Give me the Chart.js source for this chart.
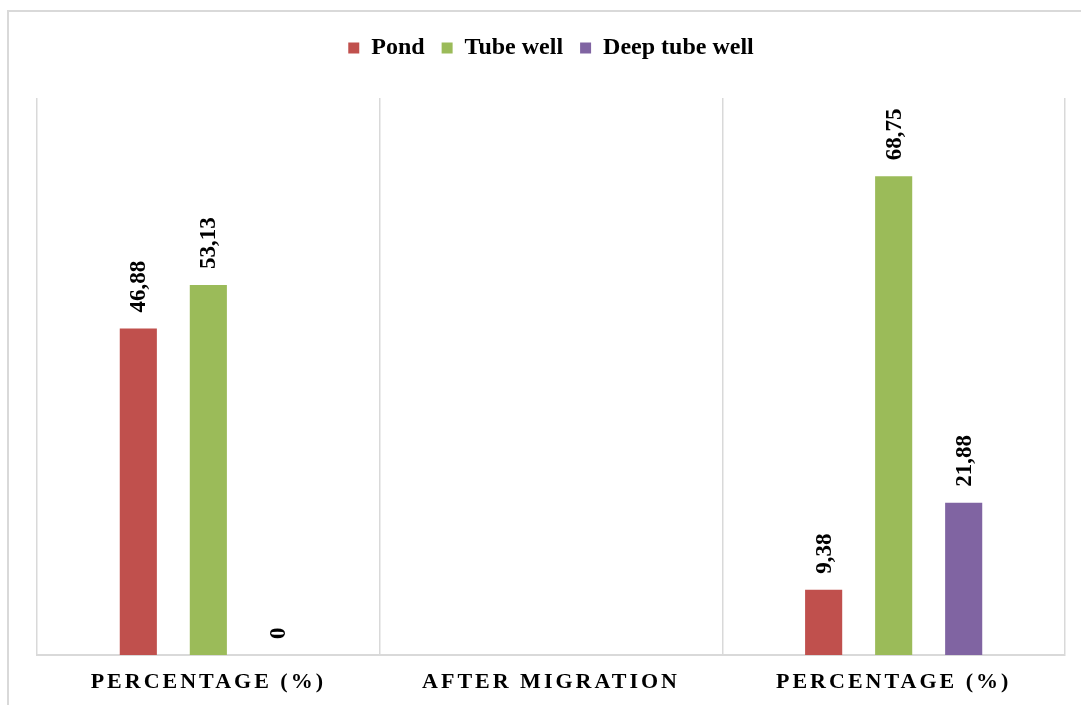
<!DOCTYPE html>
<html>
<head>
<meta charset="utf-8">
<script src="https://cdn.jsdelivr.net/npm/chart.js@4.4.1/dist/chart.umd.min.js"></script>
<style>
  html, body { margin: 0; padding: 0; background: #fff; }
  #wrap { position: relative; width: 1081px; height: 705px; overflow: hidden; }
  #frame { position: absolute; left: 7px; top: 10px; width: 1100px; height: 720px; border: 2px solid #d9d9d9; box-sizing: border-box; }
  #wrap canvas { position: absolute; left: 0; top: 0; }
</style>
</head>
<body>
<div id="wrap">
  <div id="frame"></div>
  <canvas id="waterChart" width="1081" height="705"></canvas>
</div>
<script>
// data
const categories = ["PERCENTAGE (%)", "AFTER MIGRATION", "PERCENTAGE (%)"];
const pondValues = [46.88, null, 9.38];
const tubeWellValues = [53.13, null, 68.75];
const deepTubeWellValues = [0, null, 21.88];

const FONT = '"Liberation Serif", "Times New Roman", serif';

/* =========================================
   PLUGIN: rotated value labels on top of bars
   ========================================= */
const barValueLabels = {
  id: "barValueLabels",
  afterDatasetsDraw(chart) {
    const ctx = chart.ctx;
    chart.data.datasets.forEach((ds, i) => {
      const meta = chart.getDatasetMeta(i);
      meta.data.forEach((bar, j) => {
        const v = ds.data[j];
        if (v === null || v === undefined) return;
        const txt = v.toFixed(2).replace(".", ",").replace(/,00$/, "");
        ctx.save();
        ctx.translate(bar.x, bar.y - 16);
        ctx.rotate(-Math.PI / 2);
        ctx.font = "bold 23px " + FONT;
        ctx.fillStyle = "#000";
        ctx.textAlign = "left";
        ctx.textBaseline = "middle";
        ctx.fillText(txt, 0, 1);
        ctx.restore();
      });
    });
  },
};

/* =========================================
   PLUGIN: spaced-out category labels + extra room under legend
   ========================================= */
const layoutTweaks = {
  id: "layoutTweaks",
  beforeLayout(chart) {
    const lg = chart.legend;
    if (lg && !lg._tweaked) {
      const fit = lg.fit;
      lg.fit = function () {
        fit.call(this);
        this.height += 28;
      };
      lg._tweaked = true;
    }
  },
  beforeDraw(chart) {
    const s = chart.scales.x;
    if (s._spaced) return;
    const orig = s.drawLabels;
    s.drawLabels = function (area) {
      const c = this.ctx;
      c.save();
      c.letterSpacing = "3px";
      orig.call(this, area);
      c.restore();
    };
    s._spaced = true;
  },
};

const ctx = document.getElementById("waterChart").getContext("2d");
new Chart(ctx, {
  type: "bar",
  data: {
    labels: categories,
    datasets: [
      { label: "Pond", data: pondValues, backgroundColor: "#C0504D" },
      { label: "Tube well", data: tubeWellValues, backgroundColor: "#9BBB59" },
      { label: "Deep tube well", data: deepTubeWellValues, backgroundColor: "#8064A2" },
    ],
  },
  options: {
    responsive: false,
    animation: false,
    categoryPercentage: 0.613,
    barPercentage: 0.53,
    layout: { padding: { left: 37, right: 16, top: 19, bottom: 0 } },
    plugins: {
      legend: {
        position: "top",
        labels: {
          boxWidth: 11,
          boxHeight: 11,
          padding: 17,
          color: "#000",
          font: { family: FONT, size: 24, weight: "bold" },
        },
      },
      tooltip: { enabled: false },
    },
    scales: {
      x: {
        grid: { display: true, color: "#d9d9d9", lineWidth: 1.5, drawTicks: false, offset: true },
        border: { display: true, color: "#d9d9d9", width: 2 },
        ticks: {
          color: "#000",
          padding: 14,
          font: { family: FONT, size: 22, weight: "bold" },
        },
        afterFit(scale) {
          scale.height = 50;
        },
      },
      y: {
        display: false,
        min: 0,
        max: 80,
      },
    },
  },
  plugins: [barValueLabels, layoutTweaks],
});
</script>
</body>
</html>
